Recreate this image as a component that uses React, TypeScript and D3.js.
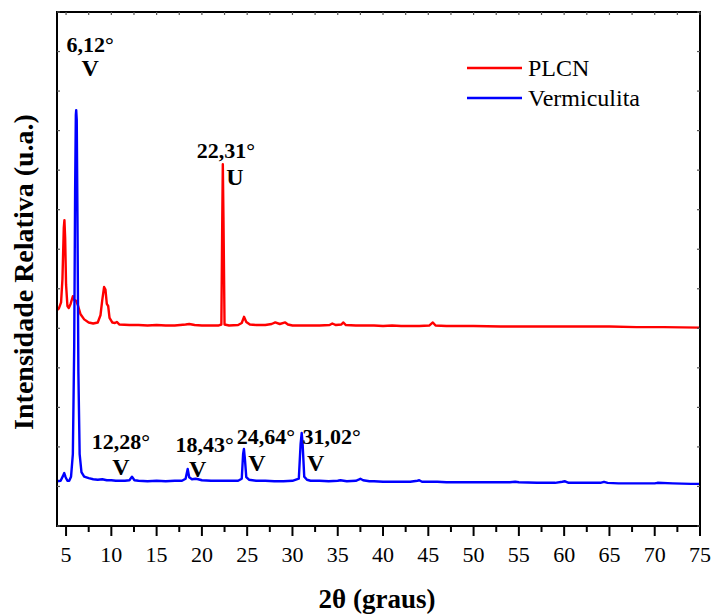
import React from "react";
import * as d3 from "d3";

// ---- Data (2θ in degrees, relative intensity in arbitrary units) ----
const vermiculita2Theta = [
  4.0, 4.4, 4.65, 4.8, 4.95, 5.15, 5.35, 5.55, 5.75, 5.9, 6.0, 6.08, 6.12, 6.18, 6.26, 6.36, 6.5, 6.7,
  7.0, 7.5, 8.0, 8.5, 9.0, 9.5, 10.0, 10.5, 11.0, 11.5, 12.0, 12.28, 12.55, 13, 14, 15, 16, 17, 17.8,
  18.2, 18.43, 18.6, 18.9, 19.3, 19.6, 20, 21, 22, 23, 24, 24.4, 24.55, 24.64, 24.75, 24.9, 25.2, 26,
  27, 28, 29, 30, 30.7, 30.9, 31.02, 31.12, 31.3, 31.6, 32, 33, 34, 35.0, 35.3, 36, 37, 37.3, 37.5,
  37.8, 38.5, 39, 40, 41, 42, 43, 43.8, 44, 44.3, 45, 46, 47, 48, 50, 52, 54, 54.6, 55, 57, 59, 59.8,
  60.1, 60.5, 62, 64, 64.4, 64.8, 66, 68, 70, 70.3, 72, 74, 75,
];
const vermiculitaIntensity = [
  87, 88, 97, 103, 95, 88, 88, 96, 140, 350, 650, 800, 809, 790, 600, 300, 140, 105,
  96, 93, 91, 90, 91, 89, 89, 88, 88, 88, 89, 96, 89, 88, 87, 88, 87, 88, 88,
  92, 111, 95, 91, 92, 91, 89, 88, 88, 88, 88, 92, 140, 150, 130, 95, 90, 88,
  88, 87, 87, 88, 92, 160, 181, 160, 96, 90, 88, 88, 87, 88, 89, 87, 88, 90, 92,
  89, 87, 87, 86, 86, 86, 86, 88, 89, 86, 86, 86, 85, 85, 85, 85, 85, 86, 85, 84, 84, 86,
  87, 84, 84, 84, 86, 84, 83, 83, 83, 84, 83, 82, 82,
];

const plcn2Theta = [
  4.0, 4.2, 4.45, 4.6, 4.75, 4.82, 4.9, 5.0, 5.15, 5.3, 5.5, 5.75, 5.9, 6.1, 6.3, 6.6, 7.0, 7.5, 8.0,
  8.5, 8.8, 9.0, 9.2, 9.35, 9.5, 9.65, 9.8, 10.1, 10.4, 10.6, 10.9, 12, 13, 14, 15, 16, 17, 18.2,
  18.6, 19.2, 20, 21, 21.8, 22.15, 22.25, 22.31, 22.38, 22.5, 23, 24, 24.4, 24.65, 24.9, 25.3, 26,
  27, 27.7, 28.1, 28.6, 29.2, 29.5, 30, 31, 32, 33, 34.1, 34.4, 34.8, 35.4, 35.6, 35.9, 37, 38, 39,
  40, 41, 42, 43, 44, 45.1, 45.5, 45.8, 47, 50, 53, 56, 59, 62, 65, 68, 71, 75,
];
const plcnIntensity = [
  420, 423, 435, 480, 580, 595, 560, 470, 428, 424, 432, 447, 440, 438, 430, 412, 402, 396, 394,
  396, 410, 440, 465, 460, 432, 428, 405, 396, 395, 397, 392, 391, 391, 390, 391, 390, 390, 392,
  393, 391, 390, 390, 390, 392, 600, 704, 600, 392, 390, 391, 395, 407, 397, 392, 391,
  391, 393, 396, 393, 396, 392, 390, 390, 390, 390, 391, 394, 391, 392, 396, 391, 390, 390, 390,
  389, 390, 389, 389, 389, 390, 396, 390, 389, 389, 388, 388, 388, 388, 388, 387, 387, 386,
];

const xTickValues = [5, 10, 15, 20, 25, 30, 35, 40, 45, 50, 55, 60, 65, 70, 75];
const xMinorTickValues = [7.5, 12.5, 17.5, 22.5, 27.5, 32.5, 37.5, 42.5, 47.5, 52.5, 57.5, 62.5, 67.5, 72.5];

const seriesNames = ["PLCN", "Vermiculita"];
const seriesColors = ["#ff0000", "#0000ff"];

// Peak annotations: angle, label, phase letter
const peakAngles = [6.12, 22.31, 12.28, 18.43, 24.64, 31.02];
const peakLabels = ["6,12°", "22,31°", "12,28°", "18,43°", "24,64°", "31,02°"];
const peakPhases = ["V", "U", "V", "V", "V", "V"];

// layout for annotations (pixel offsets relative to peak x / absolute baselines)
const annLayout = [
  { dx: 14, y: 52, pdx: 14, py: 76 },
  { dx: 3, y: 158, pdx: 12, py: 185 },
  { dx: -11, y: 449, pdx: -11, py: 475 },
  { dx: 17, y: 452, pdx: 10, py: 477 },
  { dx: 22, y: 444, pdx: 13, py: 471 },
  { dx: 30, y: 444, pdx: 14, py: 471 },
];

const W = 713;
const H = 614;
const M = { left: 57, right: 700, top: 12, bottom: 526 };
const SERIF = '"Liberation Serif", "Times New Roman", Times, serif';
const tStyle = { fontFamily: SERIF };

export default function App() {
  const x = d3.scaleLinear().domain([4, 75]).range([M.left, M.right]);
  const y = d3.scaleLinear().domain([0, 1000]).range([M.bottom, M.top]);
  const line = d3
    .line<[number, number]>()
    .x((d) => x(d[0]))
    .y((d) => y(d[1]));

  const plcn = plcn2Theta.map((t, i) => [t, plcnIntensity[i]] as [number, number]);
  const verm = vermiculita2Theta.map((t, i) => [t, vermiculitaIntensity[i]] as [number, number]);

  const yTicks = d3.range(0, 14).map((i) => (i * 1000) / 13);
  const topTicks = [...xTickValues, ...xMinorTickValues];

  return (
    <svg
      width={W}
      height={H}
      style={{ position: "absolute", left: 0, top: 0, background: "#fff", fontFamily: SERIF }}
    >
      <rect x={0} y={0} width={W} height={H} fill="#fff" />
      {/* data */}
      <path d={line(plcn) || ""} fill="none" stroke={seriesColors[0]} strokeWidth={2.4} strokeLinejoin="round" />
      <path d={line(verm) || ""} fill="none" stroke={seriesColors[1]} strokeWidth={2.4} strokeLinejoin="round" />

      {/* frame */}
      <rect
        x={M.left}
        y={M.top}
        width={M.right - M.left}
        height={M.bottom - M.top}
        fill="none"
        stroke="#000"
        strokeWidth={2}
      />
      {/* bottom ticks (outward) */}
      {xTickValues.map((t) => (
        <line key={"M" + t} x1={x(t)} x2={x(t)} y1={M.bottom} y2={M.bottom + 10} stroke="#000" strokeWidth={2} />
      ))}
      {xMinorTickValues.map((t) => (
        <line key={"m" + t} x1={x(t)} x2={x(t)} y1={M.bottom} y2={M.bottom + 6} stroke="#000" strokeWidth={2} />
      ))}
      {/* top ticks (inward) */}
      {topTicks.map((t) => (
        <line key={"T" + t} x1={x(t)} x2={x(t)} y1={M.top} y2={M.top + 3} stroke="#555" strokeWidth={1.2} />
      ))}
      {/* left/right ticks (inward) */}
      {yTicks.map((t, i) => (
        <g key={"Y" + i}>
          <line x1={M.left} x2={M.left + 3} y1={y(t)} y2={y(t)} stroke="#555" strokeWidth={1.2} />
          <line x1={M.right - 3} x2={M.right} y1={y(t)} y2={y(t)} stroke="#555" strokeWidth={1.2} />
        </g>
      ))}
      {/* tick labels */}
      {xTickValues.map((t) => (
        <text key={"L" + t} x={x(t)} y={562} textAnchor="middle" fontSize={22} fill="#000" style={tStyle}>
          {t}
        </text>
      ))}

      {/* axis titles */}
      <text x={377} y={608} textAnchor="middle" fontSize={27} fontWeight="bold" fill="#000" style={tStyle}>
        2θ (graus)
      </text>
      <text
        transform="translate(33,272) rotate(-90)"
        textAnchor="middle"
        fontSize={28}
        fontWeight="bold"
        fill="#000"
        style={tStyle}
      >
        Intensidade Relativa (u.a.)
      </text>

      {/* annotations */}
      {peakAngles.map((a, i) => (
        <g key={"A" + i} fontWeight="bold" fill="#000">
          <text x={x(a) + annLayout[i].dx} y={annLayout[i].y} textAnchor="middle" fontSize={22} style={tStyle}>
            {peakLabels[i]}
          </text>
          <text x={x(a) + annLayout[i].pdx} y={annLayout[i].py} textAnchor="middle" fontSize={24} style={tStyle}>
            {peakPhases[i]}
          </text>
        </g>
      ))}

      {/* legend */}
      {seriesNames.map((n, i) => (
        <g key={"leg" + i}>
          <line x1={467} x2={522} y1={68 + i * 30} y2={68 + i * 30} stroke={seriesColors[i]} strokeWidth={2.4} />
          <text x={528} y={76 + i * 30} fontSize={24} fill="#000" style={tStyle}>
            {n}
          </text>
        </g>
      ))}
    </svg>
  );
}
